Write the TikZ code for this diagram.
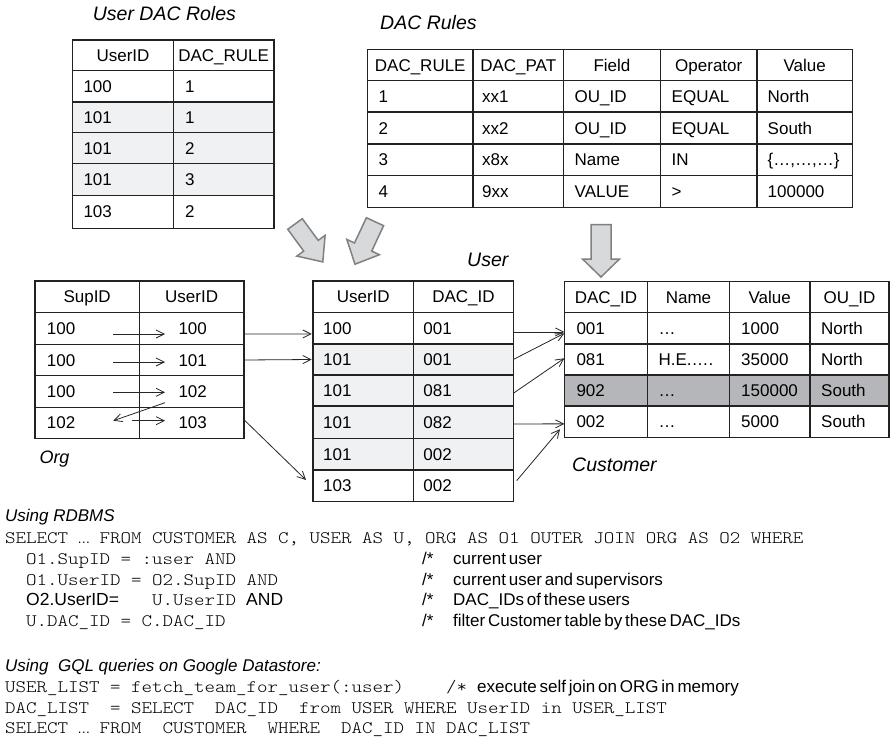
\documentclass[tikz,border=0pt]{standalone}
\usepackage{fontspec}
\setmainfont{Liberation Sans}
\setsansfont{Liberation Sans}
\newfontfamily\codefont[FakeStretch=1.143]{lmmonolt10-regular.otf}
\newfontfamily\cmtfont[WordSpace=0.6]{Liberation Sans}
\usetikzlibrary{arrows.meta}
\definecolor{rowlight}{RGB}{240,241,243}
\definecolor{rowdark}{RGB}{181,182,185}
\definecolor{blkfill}{RGB}{216,217,219}
\definecolor{blkdraw}{RGB}{128,129,131}
\definecolor{gridc}{RGB}{34,34,34}
\newcommand\tabfont{\fontsize{17}{20}\selectfont}
\newcommand\ttlfont{\fontsize{19.5}{22}\selectfont\itshape}
\newcommand\codesz{\codefont\fontsize{17.5}{20}\selectfont}
\newcommand\cmtsz{\cmtfont\fontsize{17}{20}\selectfont}
\newcommand\mell{\makebox[\fontcharwd\font`\x][c]{\sffamily\fontsize{13}{13}\selectfont …}}
\newcommand\setv{\{…,…,…\}}
\tikzset{
  cellbox/.style={draw=gridc, line width=1.5pt, inner sep=0pt, outer sep=0pt, anchor=north west},
  celltxt/.style={font=\tabfont, inner sep=0pt, text height=12.2pt, text depth=0pt},
  ttl/.style={font=\ttlfont, inner sep=0pt, anchor=base west},
  code/.style={font=\codesz, inner sep=0pt, anchor=base west},
  cmt/.style={font=\cmtsz, inner sep=0pt, anchor=base west},
  plain/.style={font=\fontsize{17.5}{20}\selectfont, inner sep=0pt, anchor=base west},
  usinglbl/.style={font=\fontsize{17}{20}\selectfont\itshape, inner sep=0pt, anchor=base west},
  conn/.style={-{Straight Barb[length=8pt,width=8pt]}, line width=0.8pt, draw=black!85},
  blk/.style={fill=blkfill, draw=blkdraw, line width=1.5pt, line join=miter},
}
\newcommand\hrow[4]{%
  \foreach \xa/\xb/\txt [count=\c] in {#4}{%
    \node[cellbox, fill=white, minimum width=\xb-\xa, minimum height=#3-#2] (#1-0-\c) at (\xa,#2) {};
    \node[celltxt] (#1-0-\c-t) at (#1-0-\c.center) {\txt};
  }}
\newcommand\drow[6]{%
  \foreach \xa/\xb/\pd/\txt [count=\c] in {#6}{%
    \node[cellbox, fill=#5, minimum width=\xb-\xa, minimum height=#4-#3] (#1-#2-\c) at (\xa,#3) {};
    \node[celltxt, anchor=west] (#1-#2-\c-t) at ([xshift=\pd]#1-#2-\c.west) {\txt};
  }}
\begin{document}
\begin{tikzpicture}[x=1pt, y=-1pt]
\useasboundingbox (0,0) rectangle (891,739);
\fill[white] (0,0) rectangle (891,739);

% ---------- User DAC Roles ----------
\node[ttl] (tudr) at (92.7,20) {User DAC Roles};
\hrow{udr}{40}{70.7}{72.7/173.3/UserID, 173.3/274/DAC\_RULE}
\drow{udr}{1}{70.7}{102}{white}{72.7/173.3/10.6/100, 173.3/274/11.7/1}
\drow{udr}{2}{102}{132.7}{rowlight}{72.7/173.3/10.6/101, 173.3/274/11.7/1}
\drow{udr}{3}{132.7}{163.3}{rowlight}{72.7/173.3/10.6/101, 173.3/274/11.7/2}
\drow{udr}{4}{163.3}{195.3}{rowlight}{72.7/173.3/10.6/101, 173.3/274/11.7/3}
\drow{udr}{5}{195.3}{228.3}{white}{72.7/173.3/10.6/103, 173.3/274/11.7/2}

% ---------- DAC Rules ----------
\node[ttl] (tdr) at (380,29.5) {DAC Rules};
\hrow{dr}{49.5}{80.7}{367.5/473/DAC\_RULE, 473/563.5/DAC\_PAT, 563.5/660.5/Field, 660.5/757/Operator, 757/852.5/Value}
\drow{dr}{1}{80.7}{112}{white}{367.5/473/11/1, 473/563.5/9/xx1, 563.5/660.5/11/OU\_ID, 660.5/757/11/EQUAL, 757/852.5/10.5/North}
\drow{dr}{2}{112}{144}{white}{367.5/473/11/2, 473/563.5/9/xx2, 563.5/660.5/11/OU\_ID, 660.5/757/11/EQUAL, 757/852.5/10.5/South}
\drow{dr}{3}{144}{175.5}{white}{367.5/473/11/3, 473/563.5/9/x8x, 563.5/660.5/11/Name, 660.5/757/11/IN, 757/852.5/10.5/\setv}
\drow{dr}{4}{175.5}{207.5}{white}{367.5/473/11/4, 473/563.5/9/9xx, 563.5/660.5/11/VALUE, 660.5/757/11/>, 757/852.5/10.5/100000}

% ---------- grey block arrows ----------
\draw[blk] (302.3,218.7) -- (318.2,240.4) -- (325.1,235.4) -- (322.8,261.9) -- (296.9,256.1) -- (303.7,251.1) -- (287.75,229.3) -- cycle;
\draw[blk] (383.6,225.7) -- (371.7,251.1) -- (379.4,254.7) -- (355,264.2) -- (346.8,239.4) -- (354.5,243.0) -- (366.4,217.7) -- cycle;
\draw[blk] (611,224.5) -- (611,259) -- (619.5,259) -- (601,277) -- (582.5,259) -- (591,259) -- (591,224.5) -- cycle;

% ---------- Org ----------
\hrow{org}{281}{312.7}{35/139.3/SupID, 139.3/244/UserID}
\drow{org}{1}{312.7}{344.3}{white}{35/139.3/11.7/100, 139.3/244/39/100}
\drow{org}{2}{344.3}{375.7}{white}{35/139.3/11.7/100, 139.3/244/39/101}
\drow{org}{3}{375.7}{407.3}{white}{35/139.3/11.7/100, 139.3/244/39/102}
\drow{org}{4}{407.3}{438.3}{white}{35/139.3/11.7/102, 139.3/244/39/103}
\node[ttl, font=\fontsize{18}{20}\selectfont\itshape] (torg) at (39.3,463) {Org};

% ---------- User ----------
\node[ttl] (tusr) at (467,266) {User};
\hrow{usr}{281}{312.7}{313/413.6/UserID, 413.6/513.3/DAC\_ID}
\drow{usr}{1}{312.7}{344}{white}{313/413.6/10/100, 413.6/513.3/9.6/001}
\drow{usr}{2}{344}{375}{rowlight}{313/413.6/10/101, 413.6/513.3/9.6/001}
\drow{usr}{3}{375}{406}{rowlight}{313/413.6/10/101, 413.6/513.3/9.6/081}
\drow{usr}{4}{406}{438.3}{rowlight}{313/413.6/10/101, 413.6/513.3/9.6/082}
\drow{usr}{5}{438.3}{470}{rowlight}{313/413.6/10/101, 413.6/513.3/9.6/002}
\drow{usr}{6}{470}{501.3}{white}{313/413.6/10/103, 413.6/513.3/9.6/002}

% ---------- Customer ----------
\hrow{cus}{281.7}{312.7}{564.3/647.7/DAC\_ID, 647.7/729.3/Name, 729.3/810/Value, 810/889/OU\_ID}
\drow{cus}{1}{312.7}{344}{white}{564.3/647.7/12/001, 647.7/729.3/10.6/…, 729.3/810/11.7/1000, 810/889/11/North}
\drow{cus}{2}{344}{375}{white}{564.3/647.7/12/081, 647.7/729.3/10.6/H.E.…., 729.3/810/11.7/35000, 810/889/11/North}
\drow{cus}{3}{375}{406}{rowdark}{564.3/647.7/12/902, 647.7/729.3/10.6/…, 729.3/810/11.7/150000, 810/889/11/South}
\drow{cus}{4}{406}{437.7}{white}{564.3/647.7/12/002, 647.7/729.3/10.6/…, 729.3/810/11.7/5000, 810/889/11/South}
\node[ttl] (tcus) at (572,471) {Customer};

% ---------- connectors: Org internal ----------
\draw[conn] ([xshift=-26pt,yshift=-5.5pt]org-1-1.east) -- ([xshift=25.7pt,yshift=-5.5pt]org-1-2.west);
\draw[conn] ([xshift=-26pt,yshift=-2pt]org-2-1.east) -- ([xshift=25.7pt,yshift=-2pt]org-2-2.west);
\draw[conn] ([xshift=-26pt,yshift=-0.8pt]org-3-1.east) -- ([xshift=25.7pt,yshift=-0.8pt]org-3-2.west);
\draw[conn] ([xshift=-7.6pt,yshift=2.1pt]org-4-1.east) -- ([xshift=25.7pt,yshift=2.1pt]org-4-2.west);
\draw[conn] ([xshift=25.7pt,yshift=-11.2pt]org-3-2.west) -- ([xshift=-26pt,yshift=2.1pt]org-4-1.east);

% ---------- connectors: Org -> User ----------
\draw[conn] ([yshift=-5.5pt]org-1-2.east) -- ([xshift=-1.3pt,yshift=-5.6pt]usr-1-1.west);
\draw[conn] (org-2-2.east) -- ([xshift=-1.3pt]usr-2-1.west);
\draw[conn] ([xshift=1pt,yshift=2.1pt]org-4-2.east) -- ([xshift=-7pt,yshift=5.7pt]usr-6-1.west);

% ---------- connectors: User -> Customer ----------
\draw[conn] ([yshift=-3.6pt]usr-1-2.east) -- ([yshift=-3.6pt]cus-1-1.west);
\draw[conn] (usr-2-2.east) -- ([yshift=-5pt]cus-1-1.west);
\draw[conn] ([yshift=-2.8pt]usr-3-2.east) -- ([yshift=1.2pt]cus-2-1.west);
\draw[conn] ([yshift=-1.8pt]usr-4-2.east) -- ([yshift=-2pt]cus-4-1.west);
\draw[conn] ([xshift=3.4pt,yshift=5pt]usr-6-2.east) -- ([xshift=-4.3pt,yshift=-7.4pt]cus-4-1.west);

% ---------- RDBMS text ----------
\node[usinglbl] (urdb) at (5,521.7) {Using RDBMS};
\node[code] (l1) at (5,543.7) {SELECT \mell\ FROM CUSTOMER AS C, USER AS U, ORG AS O1 OUTER JOIN ORG AS O2 WHERE};
\node[code] (l2) at (26,564.3) {O1.SupID = :user AND};
\node[code] (l3) at (26,585) {O1.UserID = O2.SupID AND};
\node[plain] (l4a) at (26,605.5) {O2.UserID=};
\node[code] (l4b) at (152,605.5) {U.UserID};
\node[plain] (l4c) at (246,605.5) {AND};
\node[code] (l5) at (26,626.2) {U.DAC\_ID = C.DAC\_ID};
\node[cmt] (c2s) at (422,564.3) {/*};
\node[cmt] (c2) at (453,564.3) {current user};
\node[cmt] (c3s) at (422,585) {/*};
\node[cmt] (c3) at (453,585) {current user and supervisors};
\node[cmt] (c4s) at (422,605.5) {/*};
\node[cmt] (c4) at (453,605.5) {DAC\_IDs of these users};
\node[cmt] (c5s) at (422,626.2) {/*};
\node[cmt] (c5) at (453,626.2) {filter Customer table by these DAC\_IDs};

% ---------- GQL text ----------
\node[usinglbl] (ugql) at (5,671.7) {Using\ \ GQL queries on Google Datastore:};
\node[code] (g1) at (5,692.3) {USER\_LIST = fetch\_team\_for\_user(:user)\ \ \ \ /*};
\node[cmt] (g1c) at (477,692.3) {execute self join on ORG in memory};
\node[code] (g2) at (5,713) {DAC\_LIST\ \ = SELECT\ \ DAC\_ID\ \ from USER WHERE UserID in USER\_LIST};
\node[code] (g3) at (5,733.3) {SELECT \mell\ FROM\ \ CUSTOMER\ \ WHERE\ \ DAC\_ID\ IN DAC\_LIST};
\end{tikzpicture}
\end{document}
